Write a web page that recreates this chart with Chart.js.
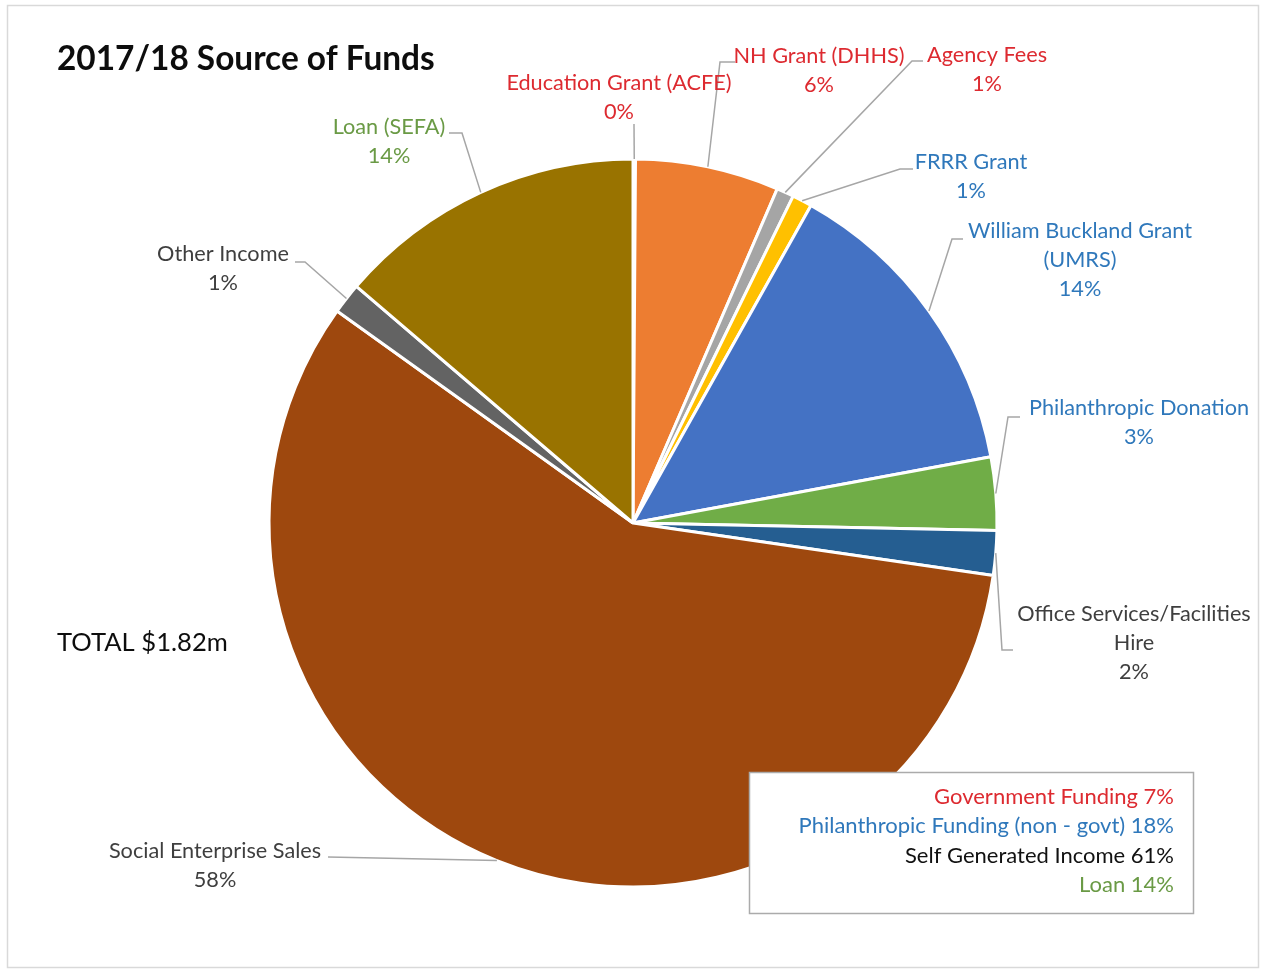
<!DOCTYPE html>
<html>
<head>
<meta charset="utf-8">
<title>2017/18 Source of Funds</title>
<script src="https://cdn.jsdelivr.net/npm/chart.js@4/dist/chart.umd.min.js"></script>
<style>
  html, body { margin: 0; padding: 0; background: #ffffff; }
  #wrap { position: relative; width: 1264px; height: 971px; }
</style>
</head>
<body>
<div id="wrap"><canvas id="chart" width="1264" height="971"></canvas></div>
<script>
// Income sources for 2017/18, in thousands of dollars
const categories = [
  'Education Grant (ACFE)',
  'NH Grant (DHHS)',
  'Agency Fees',
  'FRRR Grant',
  'William Buckland Grant (UMRS)',
  'Philanthropic Donation',
  'Office Services/Facilities Hire',
  'Social Enterprise Sales',
  'Other Income',
  'Loan (SEFA)'
];
const amounts = [2, 116, 14, 16, 254, 59, 36, 1048, 25, 250];

// Funding groups and which group each source belongs to
const groupNames = [
  'Government Funding',
  'Philanthropic Funding (non - govt)',
  'Self Generated Income',
  'Loan'
];
const groupOfSource = [0, 0, 0, 1, 1, 1, 2, 2, 2, 3];

const sliceColors = [
  '#5B9BD5', '#ED7D31', '#A5A5A5', '#FFC000', '#4472C4',
  '#70AD47', '#255E91', '#9E480E', '#636363', '#997300'
];
const labelColors = ['#DD2A30', '#2F78BB', '#3F3F3F', '#6A9A45'];
const groupTextColors = ['#DD2A30', '#2F78BB', '#111111', '#6A9A45'];

// Where each data label sits (centre of its first line), its wrap width,
// and the bend points of the leader line running from the slice edge.
const labelLayout = [
  { x: 619,  y: 83,  wrap: 300, path: [[634, 124]] },
  { x: 819,  y: 56,  wrap: 300, path: [[720, 62], [735, 62]] },
  { x: 987,  y: 55,  wrap: 300, path: [[912, 61], [923, 61]] },
  { x: 971,  y: 162, wrap: 300, path: [[900, 169], [913, 169]] },
  { x: 1080, y: 231, wrap: 255, path: [[952, 239], [963, 239]] },
  { x: 1139, y: 408, wrap: 300, path: [[1008, 417], [1020, 417]] },
  { x: 1134, y: 614, wrap: 255, path: [[1002, 650], [1013, 650]] },
  { x: 215,  y: 851, wrap: 300, path: [[328, 857]] },
  { x: 223,  y: 254, wrap: 300, path: [[305, 262], [295, 262]] },
  { x: 389,  y: 127, wrap: 300, path: [[462, 133], [449, 133]] }
];

const FONT = 'Lato, "Open Sans", sans-serif';
const total = amounts.reduce((a, b) => a + b, 0);
const pct = v => Math.round(v / total * 100) + '%';

function wrapText(ctx, text, maxW) {
  const words = text.split(' ');
  const lines = [];
  let cur = '';
  for (const w of words) {
    const test = cur ? cur + ' ' + w : w;
    if (cur && ctx.measureText(test).width > maxW) {
      lines.push(cur);
      cur = w;
    } else {
      cur = test;
    }
  }
  if (cur) lines.push(cur);
  return lines;
}

const decorations = {
  id: 'decorations',
  beforeDraw(chart) {
    const ctx = chart.ctx;
    ctx.save();
    ctx.fillStyle = '#ffffff';
    ctx.fillRect(0, 0, chart.width, chart.height);
    ctx.restore();
  },
  afterDraw(chart) {
    const ctx = chart.ctx;
    const arcs = chart.getDatasetMeta(0).data;
    ctx.save();

    // leader lines
    ctx.strokeStyle = '#A6A6A6';
    ctx.lineWidth = 1.5;
    arcs.forEach((arc, i) => {
      const p = arc.getProps(['x', 'y', 'startAngle', 'endAngle', 'outerRadius'], true);
      const mid = (p.startAngle + p.endAngle) / 2;
      const sx = p.x + Math.cos(mid) * p.outerRadius;
      const sy = p.y + Math.sin(mid) * p.outerRadius;
      ctx.beginPath();
      ctx.moveTo(sx, sy);
      labelLayout[i].path.forEach(([x, y]) => ctx.lineTo(x, y));
      ctx.stroke();
    });

    // data labels
    ctx.font = '21.7px ' + FONT;
    ctx.textAlign = 'center';
    ctx.textBaseline = 'middle';
    categories.forEach((name, i) => {
      const lay = labelLayout[i];
      const lines = wrapText(ctx, name, lay.wrap);
      lines.push(pct(amounts[i]));
      ctx.fillStyle = labelColors[groupOfSource[i]];
      lines.forEach((ln, k) => ctx.fillText(ln, lay.x, lay.y + k * 29));
    });

    // title and total
    ctx.textAlign = 'left';
    ctx.fillStyle = '#0D0D0D';
    ctx.font = 'bold 33.4px ' + FONT;
    ctx.fillText('2017/18 Source of Funds', 57, 59);
    ctx.font = '25.6px ' + FONT;
    ctx.fillText('TOTAL $' + (total / 1000).toFixed(2) + 'm', 57, 643);

    // group summary box
    ctx.fillStyle = '#ffffff';
    ctx.fillRect(749, 772, 445, 142);
    ctx.strokeStyle = '#ABABAB';
    ctx.lineWidth = 1.5;
    ctx.strokeRect(749.5, 772.5, 444, 141);
    ctx.font = '22px ' + FONT;
    ctx.textAlign = 'right';
    groupNames.forEach((g, gi) => {
      const sum = amounts.reduce((s, v, i) => s + (groupOfSource[i] === gi ? v : 0), 0);
      ctx.fillStyle = groupTextColors[gi];
      ctx.fillText(g + ' ' + pct(sum), 1174, 797 + gi * 29.4);
    });

    // outer frame
    ctx.strokeStyle = '#D9D9D9';
    ctx.lineWidth = 1.5;
    ctx.strokeRect(7.5, 5.5, 1251, 962);
    ctx.restore();
  }
};

new Chart(document.getElementById('chart'), {
  type: 'pie',
  data: {
    labels: categories,
    datasets: [{
      data: amounts,
      backgroundColor: sliceColors,
      borderColor: '#ffffff',
      borderWidth: 3,
      radius: 364
    }]
  },
  options: {
    responsive: false,
    animation: false,
    layout: { padding: { left: 2, right: 0, top: 75, bottom: 0 } },
    plugins: {
      legend: { display: false },
      tooltip: { enabled: false },
      title: { display: false }
    }
  },
  plugins: [decorations]
});
</script>
</body>
</html>
